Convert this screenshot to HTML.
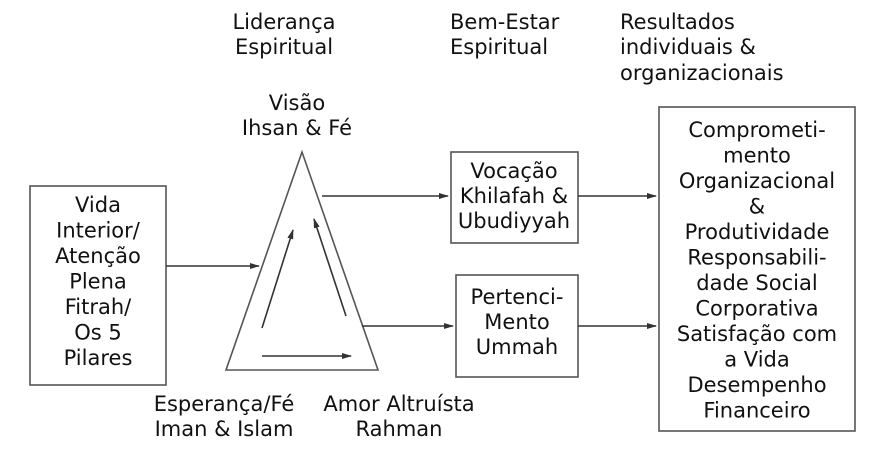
<!DOCTYPE html>
<html><head><meta charset="utf-8"><style>
html,body{margin:0;padding:0;background:#fff;}
svg{display:block;}
text{font-family:"DejaVu Sans","Liberation Sans",sans-serif;font-size:21px;fill:#111;}
</style></head><body>
<svg width="886" height="450" viewBox="0 0 886 450">
<defs><marker id="a" markerWidth="10" markerHeight="8" refX="9" refY="4" orient="auto" markerUnits="userSpaceOnUse"><path d="M0,1 L10,4 L0,7 Z" fill="#333"/></marker></defs>
<g stroke="#555" stroke-width="1.6" fill="none">
<rect x="30" y="186" width="136" height="199"/>
<rect x="451" y="152" width="127" height="91"/>
<rect x="456" y="275" width="122" height="102"/>
<rect x="659" y="107" width="196" height="324"/>
<path d="M302,152 L226,370 L378,370 Z"/>
</g>
<g stroke="#333" stroke-width="1.6" marker-end="url(#a)">
<line x1="166" y1="266" x2="259" y2="266"/>
<line x1="322" y1="196" x2="448" y2="196"/>
<line x1="362" y1="326" x2="453" y2="326"/>
<line x1="578" y1="196" x2="656" y2="196"/>
<line x1="578" y1="326" x2="656" y2="326"/>
<line x1="262" y1="328" x2="293" y2="230"/>
<line x1="346" y1="316" x2="314" y2="219"/>
<line x1="262" y1="356" x2="351" y2="356"/>
</g>
<text x="284" y="29" text-anchor="middle">Liderança</text>
<text x="284" y="54" text-anchor="middle">Espiritual</text>
<text x="450" y="29">Bem-Estar</text>
<text x="450" y="54">Espiritual</text>
<text x="620" y="29">Resultados</text>
<text x="620" y="54">individuais &amp;</text>
<text x="620" y="80">organizacionais</text>
<text x="297" y="110" text-anchor="middle">Visão</text>
<text x="297" y="135" text-anchor="middle">Ihsan &amp; Fé</text>
<g text-anchor="middle">
<text x="98" y="212">Vida</text>
<text x="98" y="237.5">Interior/</text>
<text x="98" y="263">Atenção</text>
<text x="98" y="288.5">Plena</text>
<text x="98" y="314">Fitrah/</text>
<text x="98" y="339.5">Os 5</text>
<text x="98" y="365">Pilares</text>
<text x="514" y="178">Vocação</text>
<text x="514" y="203">Khilafah &amp;</text>
<text x="514" y="228">Ubudiyyah</text>
<text x="517" y="304">Pertenci-</text>
<text x="517" y="329">Mento</text>
<text x="517" y="354">Ummah</text>
<text x="224" y="411">Esperança/Fé</text>
<text x="224" y="436">Iman &amp; Islam</text>
<text x="399" y="411">Amor Altruísta</text>
<text x="399" y="436">Rahman</text>
<text x="757" y="137">Comprometi-</text>
<text x="757" y="162.5">mento</text>
<text x="757" y="188">Organizacional</text>
<text x="757" y="213.5">&amp;</text>
<text x="757" y="239">Produtividade</text>
<text x="757" y="264.5">Responsabili-</text>
<text x="757" y="290">dade Social</text>
<text x="757" y="315.5">Corporativa</text>
<text x="757" y="341">Satisfação com</text>
<text x="757" y="366.5">a Vida</text>
<text x="757" y="392">Desempenho</text>
<text x="757" y="417.5">Financeiro</text>
</g>
</svg>
</body></html>
